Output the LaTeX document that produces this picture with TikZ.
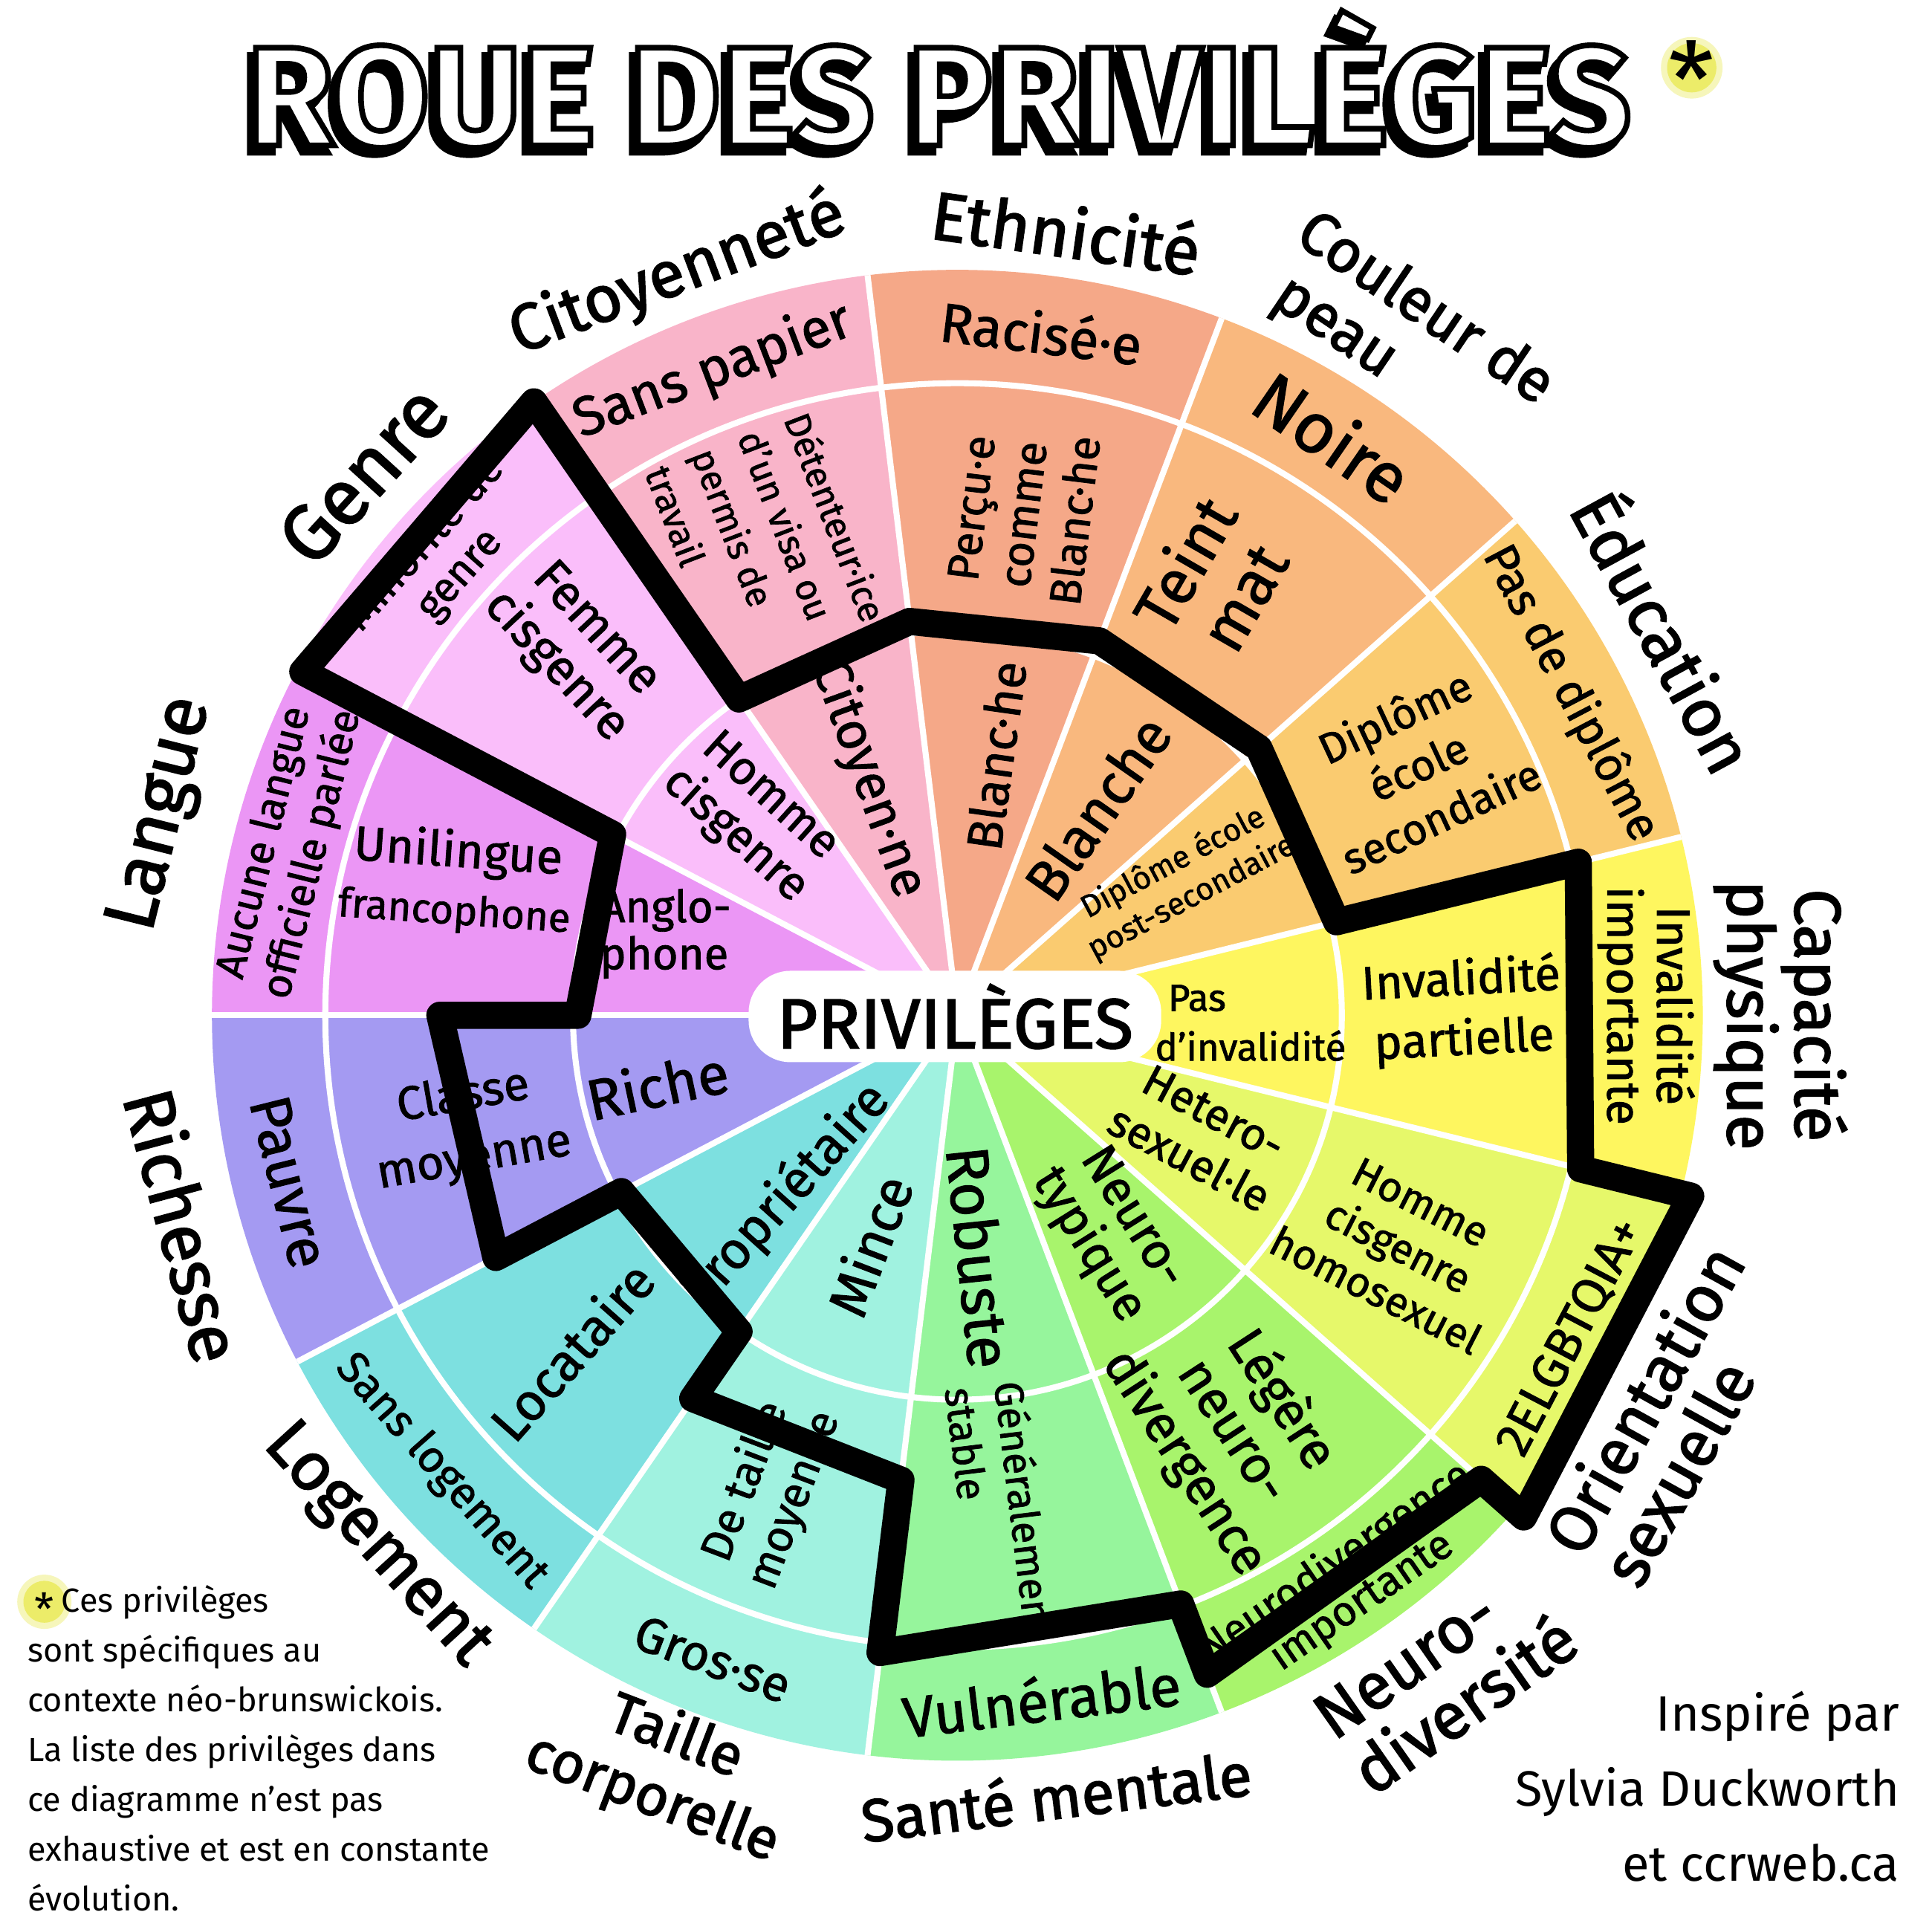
\documentclass[tikz,border=0pt]{standalone}
\usepackage{fontspec}
\setmainfont{Fira Sans}
\newfontfamily\ttlfont{Fira Sans}[BoldFeatures={FakeBold=4}]
\newfontfamily\catfont{Fira Sans}[FakeBold=2]
\newfontfamily\itmfont{Fira Sans}[FakeBold=1.4]
\usetikzlibrary{positioning}

% sector colours, Langue first, going clockwise
\definecolor{langc}{RGB}{235,150,245}
\definecolor{genrec}{RGB}{250,190,250}
\definecolor{citc}{RGB}{249,180,201}
\definecolor{ethc}{RGB}{245,168,136}
\definecolor{peauc}{RGB}{249,184,126}
\definecolor{educ}{RGB}{250,203,112}
\definecolor{capc}{RGB}{254,246,95}
\definecolor{orientc}{RGB}{230,248,106}
\definecolor{neuroc}{RGB}{168,244,108}
\definecolor{santec}{RGB}{150,245,156}
\definecolor{taillec}{RGB}{160,242,224}
\definecolor{logc}{RGB}{125,224,224}
\definecolor{richc}{RGB}{164,154,242}
\definecolor{glowc}{RGB}{236,236,105}

\tikzset{
  fs/.style 2 args={font=\fontsize{#1}{#2}\selectfont},
  sep/.style={white, line width=2.3pt},
  lbl/.style 2 args={align=center, inner sep=0pt, text=black, font=\itmfont\fontsize{#1}{#2}\selectfont},
  cat/.style 2 args={align=center, inner sep=0pt, text=black, font=\catfont\fontsize{#1}{#2}\selectfont},
  privline/.style={line width=10.4pt, line join=round},
  ttl/.style={inner sep=0pt, anchor=base, font=\fontsize{54}{54}\selectfont\ttlfont\bfseries},
}

\begin{document}
\begin{tikzpicture}[x=0.4718pt, y=0.4718pt]
  \useasboundingbox (0,0) rectangle (1568,1568);
  \fill[white] (0,0) rectangle (1568,1568);

  % Title: shadow, then white letters with a black outline
  \node[ttl, text=black] (ttlshadow) at (757,1444) {ROUE DES PRIVILÈGES};
  \node[ttl, text=white] (title) at (762,1450) {\special{pdf:literal direct 0 G}ROUE DES PRIVILÈGES};
  \fill[glowc!45] (1373,1513) circle (25);
  \fill[glowc] (1373,1513) circle (20);
  \node[inner sep=0pt, fs={40}{40}] (ast) at (1373,1504) {*};

  \begin{scope}[shift={(777,744)}]
    % Sectors
    \foreach \col [count=\k from 0] in {langc,genrec,citc,ethc,peauc,educ,capc,orientc,neuroc,santec,taillec,logc,richc}
      \fill[\col] (0,0) -- (180-\k*27.6923:605)
        arc[start angle=180-\k*27.6923, end angle=180-\k*27.6923-27.6923, radius=605] -- cycle;
    \foreach \k in {0,...,12}
      \draw[sep] (0,0) -- (180-\k*27.6923:605);
    \draw[sep] (0,0) circle[radius=312];
    \draw[sep] (0,0) circle[radius=513];

    % Categories
    \node[cat={28}{28}, rotate=76] (langue) at (165.8:665) {Langue};
    \node[cat={30}{30}, rotate=47.7] (genre) at (137.7:652) {Genre};
    \node[cat={25}{25}, rotate=20.7] (citoyennete) at (110.7:643) {Citoyenneté};
    \node[cat={26}{26}, rotate=-8] (ethnicite) at (82.1:643) {Ethnicité};
    \node[cat={23}{25}, rotate=-34, align=left] (peau) at (56.5:660) {Couleur de\\\hspace*{6pt}peau};
    \node[cat={26}{26}, rotate=-61.5] (education) at (28.5:656) {Éducation};
    \node[cat={25}{23}, rotate=-90] (capacite) at (0:668) {Capacité\\physique};
    \node[cat={25}{25}, rotate=61, align=left] (orientation) at (-29.2:664) {Orientation\\sexuelle};
    \node[cat={25}{26}, rotate=35, align=left] (neurodiv) at (-53.6:668) {Neuro-\\diversité};
    \node[cat={23}{23}, rotate=7] (sante) at (-82.8:638) {Santé mentale};
    \node[cat={22}{25}, rotate=-21] (taille) at (-111.3:656) {Taille\\corporelle};
    \node[cat={26}{26}, rotate=-47.6] (logement) at (-137.6:639) {Logement};
    \node[cat={27}{27}, rotate=-75] (richesse) at (-164.8:650) {Richesse};

    % Langue
    \node[lbl={16}{19}, rotate=76] (aucune) at (166:559) {Aucune langue\\officielle parlée};
    \node[lbl={15.5}{22}, rotate=-4] (unilingue) at (165:421) {{\fontsize{18.5}{22}\selectfont Unilingue}\\francophone};
    \node[lbl={17}{18}, align=left] (anglo) at (164.4:246) {Anglo-\\phone};
    % Genre
    \node[lbl={16}{18}, rotate=48.5] (minorite) at (138.5:559) {Minorité de\\genre};
    \node[lbl={19}{21}, rotate=-47] (femme) at (136.2:430) {Femme\\cisgenre};
    \node[lbl={18}{20}, rotate=-42] (hommecis) at (136:232) {Homme\\cisgenre};
    % Citoyennete
    \node[lbl={21}{21}, rotate=20.8] (sanspapier) at (110.8:559) {Sans papier};
    \node[lbl={14}{19}, rotate=-69, align=left] (visa) at (112:413) {Détenteur·ice\\d’un visa ou\\permis de\\travail};
    \node[lbl={20}{20}, rotate=-70] (citoyen) at (110.6:205) {Citoyen·ne};
    % Ethnicite
    \node[lbl={21}{21}, rotate=-7] (racise) at (83:559) {Racisé·e};
    \node[lbl={17}{20}, rotate=83] (percu) at (82.5:410) {Perçu·e\\comme\\Blanc·he};
    \node[lbl={19}{19}, rotate=82] (blanc) at (81.6:213) {Blanc·he};
    % Couleur de peau
    \node[lbl={27}{27}, rotate=-34.6] (noire) at (57:560) {Noire};
    \node[lbl={24}{26}, rotate=60] (teint) at (59.6:410) {Teint\\mat};
    \node[lbl={22}{22}, rotate=55] (blanche) at (56:203) {Blanche};
    % Education
    \node[lbl={18}{18}, rotate=-62.3] (pasdiplome) at (27.7:562) {Pas de diplôme};
    \node[lbl={16.5}{21}, rotate=25] (secondaire) at (28.5:425) {Diplôme\\école\\secondaire};
    \node[lbl={12}{15}, rotate=28] (postsec) at (31:213) {Diplôme école\\post-secondaire};
    % Capacite physique
    \node[lbl={18}{19}, rotate=-90] (importante) at (0.8:559) {Invalidité\\importante};
    \node[lbl={18}{23}, rotate=3] (partielle) at (0.5:410) {Invalidité\\partielle};
    \node[lbl={14.5}{19}, align=left] (pasinval) at (-1.5:238) {\hspace*{5pt}Pas\\d’invalidité};
    % Orientation sexuelle
    \node[lbl={19}{19}, rotate=62.3] (lgbt) at (-27.7:562) {2ELGBTQIA+};
    \node[lbl={16}{19}, rotate=-27] (homo) at (-27.7:404) {Homme\\cisgenre\\homosexuel};
    \node[lbl={17}{20}, rotate=-28] (hetero) at (-26.3:221) {Hetero-\\sexuel·le};
    % Neurodiversite
    \node[lbl={16}{18}, rotate=34.6] (neurodivimp) at (-55.4:559) {Neurodivergence\\importante};
    \node[lbl={20}{22}, rotate=-57] (legere) at (-56.5:405) {Légère\\neuro-\\divergence};
    \node[lbl={19}{20}, rotate=-58] (neurotyp) at (-55:215) {Neuro-\\typique};
    % Sante mentale
    \node[lbl={22}{22}, rotate=6.9] (vulnerable) at (-83:559) {Vulnérable};
    \node[lbl={15.5}{19}, rotate=-83, align=left] (stable) at (-85:405) {Généralement\\stable};
    \node[lbl={23}{23}, rotate=-84] (robuste) at (-84.8:197) {Robuste};
    % Taille corporelle
    \node[lbl={19}{19}, rotate=-20.8] (gros) at (-110.8:559) {Gros·se};
    \node[lbl={17}{20}, rotate=69.2] (moyenne) at (-111.5:415) {De taille\\moyenne};
    \node[lbl={21}{21}, rotate=69] (mince) at (-111:200) {Mince};
    % Logement
    \node[lbl={17}{17}, rotate=-48.5] (sanslog) at (-138.5:559) {Sans logement};
    \node[lbl={20}{20}, rotate=48.5] (locataire) at (-139:415) {Locataire};
    \node[lbl={20}{20}, rotate=48] (proprio) at (-133.5:202) {Propriétaire};
    % Richesse
    \node[lbl={22}{22}, rotate=-76] (pauvre) at (-166:559) {Pauvre};
    \node[lbl={18}{24}, rotate=10] (classe) at (-167:407) {Classe\\moyenne};
    \node[lbl={22}{22}, rotate=12] (riche) at (-167:250) {Riche};

    % Privilege line
    \coordinate (p1) at (124.62:605);
    \coordinate (p2) at (124.62:312);
    \coordinate (p3) at (96.92:322);
    \coordinate (p4) at (69.23:325);
    \coordinate (p5) at (41.54:327);
    \coordinate (p6) at (13.85:317);
    \coordinate (p7) at (13.85:519);
    \coordinate (p8) at (-13.85:521);
    \coordinate (p9) at (-13.85:613);
    \coordinate (p10) at (-41.54:614);
    \coordinate (p11) at (-41.54:568);
    \coordinate (p12) at (-69.23:572);
    \coordinate (p13) at (-69.23:511);
    \coordinate (p14) at (-96.92:521);
    \coordinate (p15) at (-96.92:380);
    \coordinate (p16) at (-124.62:378);
    \coordinate (p17) at (-124.62:312);
    \coordinate (p18) at (-152.31:308);
    \coordinate (p19) at (-152.31:423);
    \coordinate (p20) at (180:420);
    \coordinate (p21) at (180:308);
    \coordinate (p22) at (152.31:316);
    \coordinate (p23) at (152.31:600);
    \draw[privline] (p1) -- (p2) -- (p3) -- (p4) -- (p5) -- (p6) -- (p7) -- (p8)
      -- (p9) -- (p10) -- (p11) -- (p12) -- (p13) -- (p14) -- (p15) -- (p16)
      -- (p17) -- (p18) -- (p19) -- (p20) -- (p21) -- (p22) -- (p23) -- cycle;

    % Centre
    \node[fill=white, rounded corners=16pt, minimum width=158pt, minimum height=35pt,
      inner sep=0pt, text=black, font=\catfont\fontsize{27}{27}\selectfont] (priv) at (-2,-1) {PRIVILÈGES};
  \end{scope}

  % Footnote
  \fill[glowc!45] (36,268) circle (22);
  \fill[glowc] (36,268) circle (17);
  \node[inner sep=0pt, fs={17}{17}] (noteast) at (36,262) {*};
  \node[anchor=north west, align=left, inner sep=0pt, fs={12.8}{19.1}] (note) at (22,282)
    {\hspace*{13pt}Ces privilèges\\ sont spécifiques au\\ contexte néo-brunswickois.\\La liste des privilèges dans\\ce diagramme n’est pas\\exhaustive et est en constante\\évolution.};

  % Credit
  \node[anchor=north east, align=right, inner sep=0pt, fs={19}{28.8}] (credit) at (1542,196)
    {Inspiré par\\Sylvia Duckworth\\et ccrweb.ca};
\end{tikzpicture}
\end{document}
